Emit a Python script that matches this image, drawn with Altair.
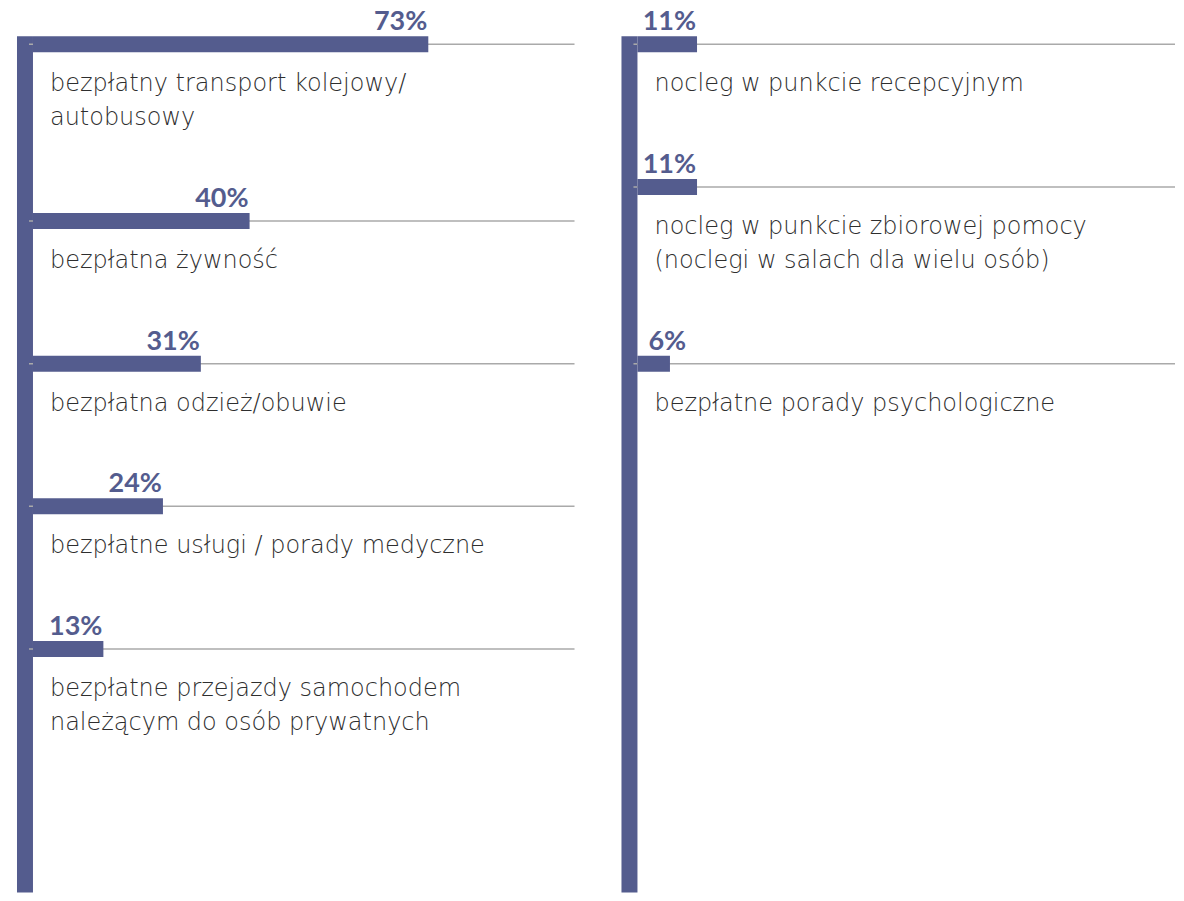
import altair as alt
import pandas as pd

# ---- data ----
labels = [
    "bezpłatny transport kolejowy/\nautobusowy",
    "bezpłatna żywność",
    "bezpłatna odzież/obuwie",
    "bezpłatne usługi / porady medyczne",
    "bezpłatne przejazdy samochodem\nnależącym do osób prywatnych",
    "nocleg w punkcie recepcyjnym",
    "nocleg w punkcie zbiorowej pomocy\n(noclegi w salach dla wielu osób)",
    "bezpłatne porady psychologiczne",
]
values = [73, 40, 31, 24, 13, 11, 11, 6]
panels = ["L", "L", "L", "L", "L", "R", "R", "R"]

# ---- table (row slot derived from number of label lines) ----
rows = []
slot = {}
for lab, v, p in zip(labels, values, panels):
    lines = lab.split("\n")
    pos = slot.get(p, 0.0)
    rows.append(dict(lines=lines, value=v, panel=p, pos=pos,
                     big=v >= 10, pct=f"{v}%"))
    slot[p] = pos + len(lines) + 3.2
df = pd.DataFrame(rows)

C = "#545c8e"
H = 885
SCALE_W = 542
FONT = "DejaVu Sans"
VFONT = "Lato"
xs = alt.Scale(domain=[0, 100], range=[0, SCALE_W], nice=False, zero=True, padding=0)
y0 = -36 / 34
ys = alt.Scale(domain=[y0, y0 + H / 34], reverse=True, nice=False, zero=False, padding=0)


def panel(p, w):
    d = df[df.panel == p]
    base = alt.Chart(d)
    Y = alt.Y("pos:Q", scale=ys, axis=None)
    vbar = base.transform_aggregate(top="min(pos)").mark_rect(
        color=C, yOffset=-8
    ).encode(
        x=alt.value(-16), x2=alt.value(0),
        y=alt.Y("top:Q", scale=ys, axis=None), y2=alt.value(H)
    )
    grey = base.mark_rule(color="#aaaaaa", strokeWidth=1.5).encode(
        x=alt.value(-4), x2=alt.value(w), y=Y
    )
    bar = base.mark_bar(orient="horizontal", size=16, color=C).encode(
        x=alt.X("value:Q", scale=xs, axis=None), y=Y
    )
    tbig = base.transform_filter("datum.big").mark_text(
        align="right", baseline="alphabetic", dx=-1, dy=-14, fontSize=27,
        fontWeight="bold", font=VFONT, color=C, clip=True
    ).encode(x=alt.X("value:Q", scale=xs, axis=None), y=Y, text="pct:N")
    tsmall = base.transform_filter("!datum.big").mark_text(
        align="left", baseline="alphabetic", dx=11, dy=-14, fontSize=27,
        fontWeight="bold", font=VFONT, color=C, clip=True
    ).encode(x=alt.value(0), y=Y, text="pct:N")
    cat = base.mark_text(
        align="left", baseline="alphabetic", dx=17, dy=47, fontSize=24,
        fontWeight=200, font=FONT, color="#2e2e2e", lineHeight=34
    ).encode(x=alt.value(0), y=Y, text="lines:N")
    return alt.layer(vbar, grey, bar, tbig, tsmall, cat).properties(width=w, height=H)


chart = alt.hconcat(panel("L", 542), panel("R", 538), spacing=46).properties(
    padding={"left": 9, "top": 0, "right": 0, "bottom": 0},
).configure(background="white", view=alt.ViewConfig(strokeWidth=0))

chart.save("out.html", embed_options={"renderer": "svg", "actions": False})
